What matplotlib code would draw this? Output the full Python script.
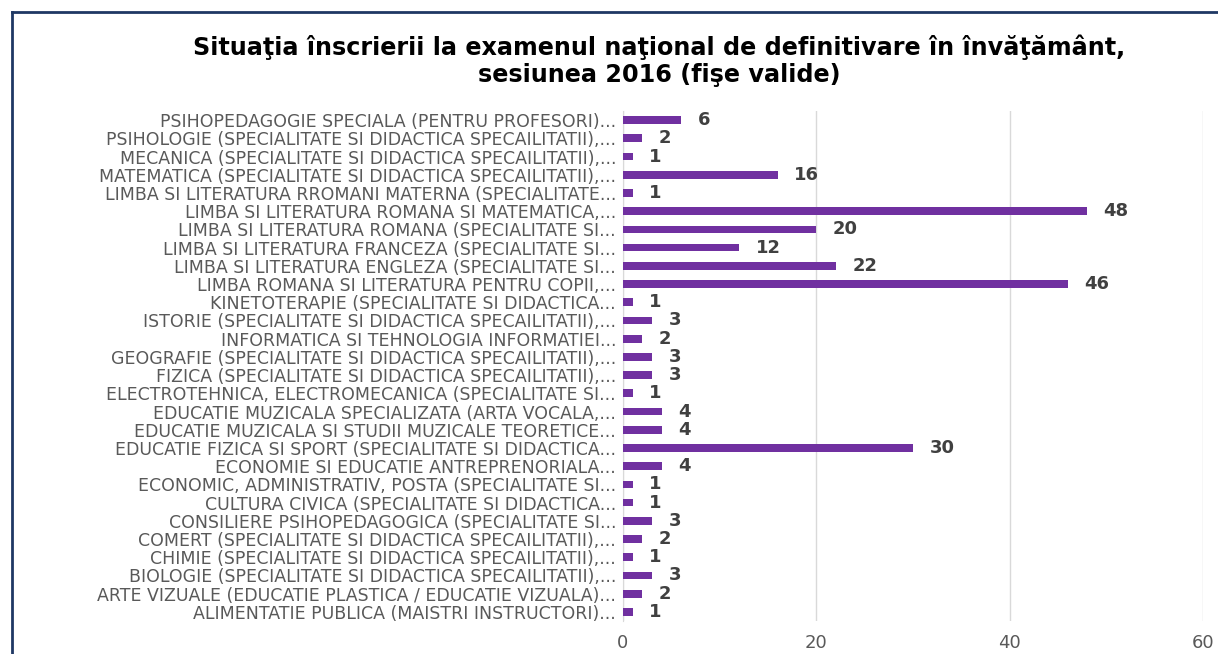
import matplotlib

matplotlib.use("Agg")
import matplotlib.pyplot as plt
from matplotlib.lines import Line2D

# top-to-bottom order as shown in the chart
categories = [
    "PSIHOPEDAGOGIE SPECIALA (PENTRU PROFESORI)...",
    "PSIHOLOGIE (SPECIALITATE SI DIDACTICA SPECAILITATII),...",
    "MECANICA (SPECIALITATE SI DIDACTICA SPECAILITATII),...",
    "MATEMATICA (SPECIALITATE SI DIDACTICA SPECAILITATII),...",
    "LIMBA SI LITERATURA RROMANI MATERNA (SPECIALITATE...",
    "LIMBA SI LITERATURA ROMANA SI MATEMATICA,...",
    "LIMBA SI LITERATURA ROMANA (SPECIALITATE SI...",
    "LIMBA SI LITERATURA FRANCEZA (SPECIALITATE SI...",
    "LIMBA SI LITERATURA ENGLEZA (SPECIALITATE SI...",
    "LIMBA ROMANA SI LITERATURA PENTRU COPII,...",
    "KINETOTERAPIE (SPECIALITATE SI DIDACTICA...",
    "ISTORIE (SPECIALITATE SI DIDACTICA SPECAILITATII),...",
    "INFORMATICA SI TEHNOLOGIA INFORMATIEI...",
    "GEOGRAFIE (SPECIALITATE SI DIDACTICA SPECAILITATII),...",
    "FIZICA (SPECIALITATE SI DIDACTICA SPECAILITATII),...",
    "ELECTROTEHNICA, ELECTROMECANICA (SPECIALITATE SI...",
    "EDUCATIE MUZICALA SPECIALIZATA (ARTA VOCALA,...",
    "EDUCATIE MUZICALA SI STUDII MUZICALE TEORETICE...",
    "EDUCATIE FIZICA SI SPORT (SPECIALITATE SI DIDACTICA...",
    "ECONOMIE SI EDUCATIE ANTREPRENORIALA...",
    "ECONOMIC, ADMINISTRATIV, POSTA (SPECIALITATE SI...",
    "CULTURA CIVICA (SPECIALITATE SI DIDACTICA...",
    "CONSILIERE PSIHOPEDAGOGICA (SPECIALITATE SI...",
    "COMERT (SPECIALITATE SI DIDACTICA SPECAILITATII),...",
    "CHIMIE (SPECIALITATE SI DIDACTICA SPECAILITATII),...",
    "BIOLOGIE (SPECIALITATE SI DIDACTICA SPECAILITATII),...",
    "ARTE VIZUALE (EDUCATIE PLASTICA / EDUCATIE VIZUALA)...",
    "ALIMENTATIE PUBLICA (MAISTRI INSTRUCTORI)...",
]
counts = [6, 2, 1, 16, 1, 48, 20, 12, 22, 46, 1, 3, 2, 3, 3, 1,
          4, 4, 30, 4, 1, 1, 3, 2, 1, 3, 2, 1]
x_ticks = [0, 20, 40, 60]

TITLE = ("Situaţia înscrierii la examenul naţional de definitivare în învăţământ,\n"
         "sesiunea 2016 (fişe valide)")

BAR_COLOR = "#7030A0"
GRID_COLOR = "#D9D9D9"
TEXT_GRAY = "#595959"

fig = plt.figure(figsize=(12.18, 6.54), dpi=100)
ax = fig.add_axes([623 / 1218, 1 - 621 / 654, 580 / 1218, 510 / 654])

y = list(range(len(categories)))
bars = ax.barh(y, counts, height=0.42, color=BAR_COLOR, zorder=3)
ax.bar_label(bars, labels=[str(c) for c in counts], padding=12,
             fontsize=13, fontweight="bold", color="#404040")

ax.set_ylim(len(categories) - 0.5, -0.5)
ax.set_xlim(0, 60)
ax.set_yticks(y)
ax.set_yticklabels(categories, fontsize=12.5, color=TEXT_GRAY)
ax.set_xticks(x_ticks)
ax.tick_params(axis="x", length=0, pad=9, labelsize=13, labelcolor=TEXT_GRAY)
ax.tick_params(axis="y", length=0, pad=5)
ax.grid(axis="x", color=GRID_COLOR, linewidth=1, zorder=0)
for side in ("top", "right", "bottom"):
    ax.spines[side].set_visible(False)
ax.spines["left"].set_color(GRID_COLOR)

fig.text(659 / 1218, 1 - 61 / 654, TITLE, ha="center", va="center",
         fontsize=17.2, fontweight="bold", color="black", linespacing=1.15)

# frame of the embedded chart (top and left edges visible)
border = "#1F3864"
fig.add_artist(Line2D([12 / 1218, 1.0], [1 - 12 / 654, 1 - 12 / 654],
                      color=border, linewidth=2, transform=fig.transFigure))
fig.add_artist(Line2D([12 / 1218, 12 / 1218], [0.0, 1 - 12 / 654],
                      color=border, linewidth=2, transform=fig.transFigure))

fig.savefig("out.png", dpi=100)
